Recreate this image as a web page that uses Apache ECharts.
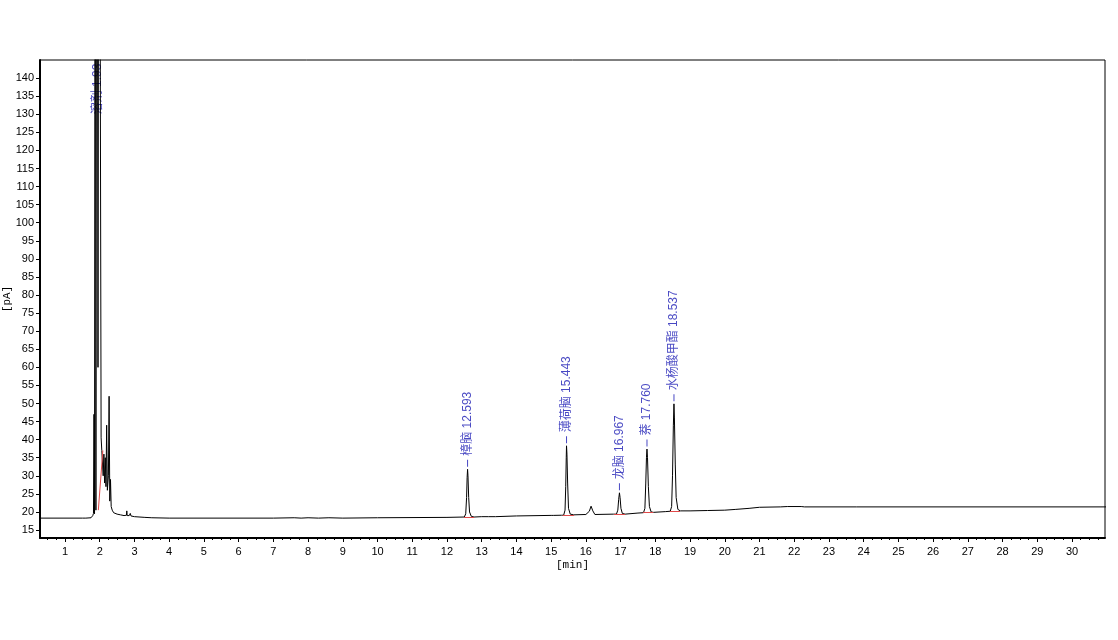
<!DOCTYPE html>
<html>
<head>
<meta charset="utf-8">
<script src="https://cdn.jsdelivr.net/npm/echarts@6/dist/echarts.min.js"></script>
<style>
html,body{margin:0;padding:0;background:#fff;}
#chart{width:1118px;height:640px;}
</style>
</head>
<body>
<div id="chart"></div>
<script>
// Chromatogram trace: retention time [min] and detector signal [pA]
const traceTime = [
  0.28, 1.00, 1.50, 1.55, 1.60, 1.75, 1.80, 1.82, 1.835, 1.85, 1.87, 1.89, 1.92, 1.95, 1.98, 2.02, 2.04, 2.06, 2.08, 2.10,
  2.12, 2.14, 2.16, 2.18, 2.20, 2.22, 2.25, 2.27, 2.29, 2.31, 2.33, 2.36, 2.40, 2.50, 2.60, 2.70, 2.77, 2.78, 2.79, 2.85,
  2.88, 2.90, 3.00, 3.30, 3.50, 4.00, 7.00, 7.60, 7.80, 8.00, 8.30, 8.60, 9.00, 10.00, 12.00, 12.50, 12.54, 12.565, 12.58, 12.593,
  12.605, 12.625, 12.65, 12.70, 12.78, 13.00, 13.20, 13.25, 13.40, 13.45, 14.00, 15.00, 15.03, 15.06, 15.30, 15.36, 15.40, 15.42, 15.435, 15.443,
  15.455, 15.475, 15.50, 15.55, 15.65, 16.00, 16.05, 16.10, 16.15, 16.20, 16.26, 16.80, 16.88, 16.92, 16.945, 16.967, 16.985, 17.01, 17.05, 17.13,
  17.50, 17.66, 17.70, 17.725, 17.745, 17.76, 17.775, 17.80, 17.83, 17.88, 17.95, 18.30, 18.43, 18.47, 18.495, 18.52, 18.537, 18.55, 18.575, 18.60,
  18.65, 18.72, 19.00, 19.50, 20.00, 20.30, 20.70, 21.00, 21.60, 21.80, 22.20, 22.30, 23.80, 23.82, 23.84, 31.00
];
const traceSignal = [
  18.3, 18.3, 18.3, 18.5, 18.3, 18.4, 19.0, 19.6, 47.0, 19.5, 300, 20.5, 300, 60.0, 300, 300, 40.5, 37.0, 36.5, 30.0,
  36.0, 28.0, 35.0, 27.0, 44.0, 26.0, 30.0, 52.0, 23.0, 29.0, 21.5, 20.5, 19.8, 19.4, 19.2, 19.0, 19.1, 20.3, 19.0, 19.0,
  19.6, 18.9, 18.7, 18.5, 18.4, 18.3, 18.3, 18.4, 18.3, 18.4, 18.3, 18.4, 18.3, 18.4, 18.5, 18.6, 19.5, 24.0, 29.5, 31.8,
  30.0, 24.0, 20.0, 18.8, 18.6, 18.7, 18.7, 18.9, 18.7, 18.9, 18.9, 19.05, 19.5, 19.05, 19.1, 19.1, 20.5, 27.0, 35.0, 38.3,
  36.0, 28.0, 21.0, 19.4, 19.2, 19.3, 19.3, 20.2, 21.6, 20.3, 19.3, 19.4, 19.4, 20.5, 23.5, 25.3, 24.0, 21.0, 19.6, 19.4,
  19.7, 19.8, 21.0, 28.0, 35.0, 37.4, 35.0, 27.0, 21.5, 20.0, 19.9, 20.1, 20.2, 21.5, 30.0, 44.0, 49.9, 46.0, 33.0, 24.0,
  20.7, 20.3, 20.3, 20.4, 20.5, 20.7, 21.0, 21.3, 21.4, 21.5, 21.5, 21.4, 21.4, 21.6, 21.4, 21.4
];

// Annotated peaks
const peakNames = ['樟脑 12.593', '薄荷脑 15.443', '龙脑 16.967', '萘 17.760', '水杨酸甲酯 18.537'];
const peakTimes = [12.593, 15.443, 16.967, 17.760, 18.537];
const peakApex  = [31.8, 38.3, 25.3, 37.4, 49.9];
const solventName = '溶剂 1.93';
const solventAt = [1.955, 130.0];

// Integration baselines (red): start time, start signal, end time, end signal
const baseStartT = [1.96, 12.49, 15.33, 16.81, 17.65, 18.42];
const baseStartY = [20.5, 18.6, 19.1, 19.35, 19.8, 20.3];
const baseEndT   = [2.09, 12.78, 15.66, 17.13, 17.94, 18.71];
const baseEndY   = [37.0, 18.6, 19.1, 19.35, 19.8, 20.3];

// Axis tick values
const xLabels = [1,2,3,4,5,6,7,8,9,10,11,12,13,14,15,16,17,18,19,20,21,22,23,24,25,26,27,28,29,30];
const yLabels = [15,20,25,30,35,40,45,50,55,60,65,70,75,80,85,90,95,100,105,110,115,120,125,130,135,140];

const xMin = 0.28, xMax = 30.95, yMin = 12.8, yMax = 145;

const xMinor = [];
for (let i = 1; i * 0.25 + 0.0001 < xMax; i++) { const v = i * 0.25; if (v > xMin) xMinor.push(v); }

const trace = traceTime.map((t, i) => [t, traceSignal[i]]);
const peaks = peakTimes.map((t, i) => ({ value: [t, peakApex[i]], name: peakNames[i] }));
const baseLines = baseStartT.map((t, i) => [{ coord: [t, baseStartY[i]] }, { coord: [baseEndT[i], baseEndY[i]] }]);

const FONT = "'Liberation Sans', 'Noto Sans CJK SC', Arial, sans-serif";
const MONO = "'Liberation Mono', 'DejaVu Sans Mono', monospace";
const BLUE = '#1a1ab4';

const chart = echarts.init(document.getElementById('chart'), null, { renderer: 'canvas' });
chart.setOption({
  animation: false,
  backgroundColor: '#fff',
  grid: { left: 40, right: 13, top: 60, bottom: 102, containLabel: false, outerBoundsMode: 'none',
          show: true, borderColor: '#000', borderWidth: 1, backgroundColor: 'transparent' },
  xAxis: [{
    type: 'value', min: xMin, max: xMax, position: 'bottom',
    name: '[min]', nameLocation: 'middle', nameGap: 22, nameMoveOverlap: false,
    nameTextStyle: { fontFamily: MONO, fontSize: 11, color: '#000' },
    axisLine: { show: true, onZero: false, lineStyle: { color: '#000', width: 2 } },
    axisTick: { show: true, length: 4, customValues: xLabels, lineStyle: { color: '#000' } },
    axisLabel: { show: true, customValues: xLabels, margin: 8, fontFamily: FONT, fontSize: 11, color: '#000', showMinLabel: true, showMaxLabel: true },
    splitLine: { show: false }
  }, {
    type: 'value', min: xMin, max: xMax, position: 'bottom',
    axisLine: { show: false, onZero: false },
    axisTick: { show: true, length: 2, customValues: xMinor, lineStyle: { color: '#000' } },
    axisLabel: { show: false },
    splitLine: { show: false }
  }],
  yAxis: [{
    type: 'value', min: yMin, max: yMax, position: 'left',
    name: '[pA]', nameLocation: 'middle', nameGap: 27, nameRotate: 90, nameMoveOverlap: false,
    nameTextStyle: { fontFamily: MONO, fontSize: 11, color: '#000' },
    axisLine: { show: true, onZero: false, lineStyle: { color: '#000', width: 2 } },
    axisTick: { show: true, length: 4, customValues: yLabels, lineStyle: { color: '#000' } },
    axisLabel: { show: true, customValues: yLabels, margin: 6, fontFamily: FONT, fontSize: 11, color: '#000' },
    splitLine: { show: false }
  }],
  series: [{
    type: 'line', data: trace, xAxisIndex: 0, yAxisIndex: 0,
    showSymbol: false, symbol: 'none', clip: true,
    lineStyle: { color: '#000', width: 1 },
    markLine: {
      silent: true, symbol: 'none', animation: false,
      label: { show: false },
      lineStyle: { color: '#e04848', width: 1, type: 'solid' },
      data: baseLines
    }
  }, {
    type: 'scatter', data: peaks, xAxisIndex: 0, yAxisIndex: 0,
    symbol: 'rect', symbolSize: [1, 7], symbolOffset: [0, -6],
    itemStyle: { color: BLUE },
    label: {
      show: true, formatter: p => p.name, position: 'top', distance: 4,
      rotate: 90, align: 'left', verticalAlign: 'middle',
      fontFamily: FONT, fontSize: 12, color: BLUE
    }
  }, {
    type: 'scatter', data: [{ value: solventAt, name: solventName }], xAxisIndex: 0, yAxisIndex: 0,
    symbol: 'rect', symbolSize: [0, 0],
    itemStyle: { color: BLUE },
    label: {
      show: true, formatter: p => p.name, position: 'top', distance: 0,
      rotate: 90, align: 'left', verticalAlign: 'middle',
      fontFamily: FONT, fontSize: 12, color: BLUE
    }
  }]
});
</script>
</body>
</html>
